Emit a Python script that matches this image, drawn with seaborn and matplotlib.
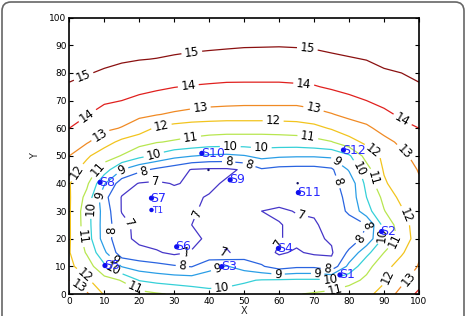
import numpy as np
import matplotlib
matplotlib.use("Agg")
import matplotlib.pyplot as plt
import seaborn as sns
from matplotlib.patches import FancyBboxPatch

# grid coordinates
x_grid = [0, 5, 10, 15, 20, 25, 30, 35, 40, 45, 50, 55, 60, 65, 70, 75, 80, 85, 90, 95, 100]
y_grid = [0, 5, 10, 15, 20, 25, 30, 35, 40, 45, 50, 55, 60, 65, 70, 75, 80, 85, 90, 95, 100]

# field values (rows: y, columns: x)
z_rows = [
    [13.8, 13.15, 11.9, 11.6, 11.35, 11.1, 10.9, 10.6, 10.3, 10.4, 10.35, 10.5, 10.7, 10.95, 11.1, 11.3, 11.55, 11.8, 12.3, 13.4, 14.2],
    [13.0, 12.15, 11.35, 10.95, 9.95, 9.7, 9.55, 9.5, 9.55, 9.6, 9.9, 10.05, 10.1, 10.15, 10.15, 10.15, 10.65, 11.2, 11.9, 12.7, 13.6],
    [12.2, 11.5, 10.2, 8.95, 8.5, 8.3, 8.1, 7.95, 8.7, 9.05, 8.6, 8.1, 7.5, 7.8, 7.8, 7.3, 9.3, 10.7, 11.6, 12.5, 13.05],
    [12.05, 10.9, 9.2, 7.4, 7.25, 7.1, 6.8, 7.05, 7.2, 6.9, 7.4, 7.35, 6.9, 7.1, 6.85, 6.9, 8.2, 9.7, 11.0, 11.85, 12.9],
    [12.1, 10.55, 8.55, 7.25, 6.8, 6.6, 6.6, 6.8, 7.15, 7.25, 7.3, 7.2, 7.05, 6.8, 6.85, 7.1, 7.4, 8.3, 10.2, 11.3, 12.6],
    [12.1, 10.45, 8.55, 7.3, 6.7, 6.6, 6.75, 7.0, 7.2, 7.3, 7.35, 7.25, 7.05, 6.8, 6.9, 7.3, 7.6, 8.0, 10.35, 11.5, 12.6],
    [12.1, 10.4, 8.6, 6.95, 6.7, 6.6, 6.7, 6.9, 7.2, 7.3, 7.2, 7.0, 6.85, 7.05, 7.1, 7.45, 8.15, 9.6, 10.95, 11.85, 12.8],
    [12.1, 10.7, 8.3, 6.95, 6.75, 6.55, 6.7, 6.9, 7.05, 7.3, 7.45, 7.5, 7.4, 7.35, 7.35, 7.5, 8.3, 10.0, 11.25, 12.3, 12.75],
    [12.05, 11.2, 9.1, 7.45, 6.95, 6.85, 7.05, 6.9, 6.85, 7.1, 7.45, 7.55, 7.55, 7.5, 7.5, 7.8, 8.3, 10.3, 11.85, 12.6, 12.9],
    [12.4, 11.6, 10.5, 9.0, 8.25, 7.8, 7.45, 6.95, 6.85, 6.85, 7.1, 7.9, 7.7, 7.65, 7.65, 7.85, 9.1, 10.6, 12.1, 12.6, 13.05],
    [13.0, 12.15, 11.45, 10.95, 10.3, 9.8, 9.3, 9.05, 8.85, 8.8, 8.95, 9.3, 9.15, 9.1, 9.1, 9.2, 9.85, 11.4, 12.2, 12.8, 13.3],
    [13.5, 13.1, 12.4, 11.75, 11.35, 11.05, 10.9, 10.75, 10.6, 10.55, 10.55, 10.55, 10.55, 10.55, 10.7, 10.95, 11.65, 12.2, 12.7, 13.2, 13.55],
    [14.0, 13.6, 13.2, 12.95, 12.5, 11.85, 11.6, 11.45, 11.4, 11.35, 11.35, 11.35, 11.4, 11.5, 11.7, 12.1, 12.5, 12.8, 13.35, 13.75, 14.0],
    [14.3, 14.05, 13.6, 13.45, 13.2, 13.05, 12.85, 12.7, 12.6, 12.55, 12.55, 12.55, 12.55, 12.55, 12.7, 12.95, 13.25, 13.5, 13.8, 14.15, 14.45],
    [14.6, 14.3, 14.15, 14.0, 13.85, 13.75, 13.6, 13.45, 13.35, 13.3, 13.25, 13.25, 13.25, 13.25, 13.4, 13.6, 13.8, 14.0, 14.25, 14.55, 14.85],
    [14.9, 14.65, 14.5, 14.35, 14.2, 14.1, 14.02, 13.95, 13.9, 13.85, 13.85, 13.85, 13.85, 13.9, 13.95, 14.1, 14.25, 14.4, 14.55, 14.75, 14.9],
    [15.2, 15.05, 14.9, 14.75, 14.6, 14.5, 14.45, 14.4, 14.35, 14.32, 14.3, 14.3, 14.3, 14.3, 14.35, 14.45, 14.6, 14.75, 14.9, 15.0, 15.2],
    [15.5, 15.35, 15.2, 15.1, 15.03, 14.98, 14.9, 14.85, 14.8, 14.78, 14.75, 14.75, 14.75, 14.75, 14.8, 14.88, 14.95, 15.02, 15.2, 15.4, 15.55],
    [15.8, 15.65, 15.5, 15.4, 15.33, 15.28, 15.22, 15.15, 15.12, 15.08, 15.05, 15.04, 15.03, 15.05, 15.08, 15.15, 15.22, 15.35, 15.5, 15.7, 15.85],
    [16.1, 15.95, 15.8, 15.7, 15.63, 15.58, 15.52, 15.45, 15.42, 15.38, 15.35, 15.34, 15.33, 15.35, 15.38, 15.45, 15.52, 15.65, 15.8, 16.0, 16.15],
    [16.4, 16.25, 16.1, 16.0, 15.93, 15.88, 15.82, 15.75, 15.72, 15.68, 15.65, 15.64, 15.63, 15.65, 15.68, 15.75, 15.82, 15.95, 16.1, 16.3, 16.45],
]

levels = [7, 8, 9, 10, 11, 12, 13, 14, 15]
level_colors = ["#4636c8", "#2a64e0", "#2a9ee6", "#36d0d8", "#b8e650",
                "#f2c41e", "#f08a24", "#e0201e", "#8a1010"]

# sensors
sensor_names = ["S1", "S2", "S3", "S4", "S5", "S6", "S7", "S8", "S9", "S10", "S11", "S12"]
sensor_x = [77.4, 89.3, 43.6, 59.8, 10.2, 30.7, 23.5, 8.8, 46.0, 37.9, 65.5, 78.4]
sensor_y = [6.9, 22.6, 9.9, 16.5, 10.3, 17.1, 34.7, 40.4, 41.3, 50.9, 36.7, 52.1]
t_name = ["T1"]
t_x = [23.5]
t_y = [30.4]
dot_x = [65.3, 39.8]
dot_y = [40.1, 44.9]

# label anchor points (approximate positions of the inline labels)
label_pos = [
    (3.9, 79.3), (35, 87.7), (68, 87.7),
    (5.4, 64.2), (34, 75.6), (67, 75.6), (95, 62.4),
    (8.8, 57.6), (37.4, 68), (69.7, 66), (95.5, 51), (97.4, 5), (2.5, 2.6),
    (26.4, 60), (58.3, 63), (87, 52), (2.2, 44), (96.6, 28.6), (4.5, 6.8), (91, 6.3),
    (34.5, 58), (68.3, 57.6), (8.3, 45), (3.6, 20.7), (19.3, 3.3), (88, 42), (94.5, 17.7), (76, 1.4),
    (24, 51), (55, 54.6), (82.6, 45), (6, 31), (12, 7.5), (43.6, 2.2), (74.6, 5.3), (89.7, 21.4),
    (46, 52), (15, 45), (8.2, 35.8), (13, 12.3), (42, 10.5), (71, 7), (85.4, 25.6), (76.8, 48.5),
    (21, 45.5), (51.6, 47.5), (78.4, 41.3), (12.5, 23), (32.3, 9.6), (59.7, 7.2), (84, 19.5),
    (24.6, 41.3), (45.5, 46.7), (17.4, 26), (33.5, 15), (36.8, 29.2), (66.4, 28.6), (59.3, 19), (74, 11.2), (44, 14.8),
]

sns.set_style("white")
plt.rcParams["font.family"] = ["DejaVu Sans"]

fig = plt.figure(figsize=(4.67, 3.16), dpi=100)
ax = fig.add_axes([0.1484, 0.0696, 0.7488, 0.8744])

X, Y = np.meshgrid(np.array(x_grid, float), np.array(y_grid, float))
Z = np.array(z_rows, float)
cs = ax.contour(X, Y, Z, levels=levels, colors=level_colors, linewidths=0.9)
ax.clabel(cs, levels, manual=label_pos, inline=True, inline_spacing=3,
          fontsize=8.5, fmt="%d", colors="k")

sns.scatterplot(x=sensor_x, y=sensor_y, color="#1010ee", s=14, ax=ax,
                legend=False, zorder=5, edgecolor="none")
sns.scatterplot(x=t_x, y=t_y, color="#1010ee", s=10, ax=ax,
                legend=False, zorder=5, edgecolor="none")
sns.scatterplot(x=dot_x, y=dot_y, color="#101060", s=3, ax=ax,
                legend=False, zorder=5, edgecolor="none")
for n, sx, sy in zip(sensor_names, sensor_x, sensor_y):
    ax.text(sx - 0.3, sy, n, color="#2a2aff", fontsize=9, va="center", ha="left", zorder=6)
for n, sx, sy in zip(t_name, t_x, t_y):
    ax.text(sx + 0.3, sy, n, color="#2a2aff", fontsize=6.5, va="center", ha="left", zorder=6)

ax.set_xlim(0, 100)
ax.set_ylim(0, 100)
ax.set_xticks(range(0, 101, 10))
ax.set_yticks(range(0, 101, 10))
ax.tick_params(direction="in", length=3, width=0.8, labelsize=6.5,
               top=True, right=True, bottom=True, left=True, pad=2, colors="k")
for s in ax.spines.values():
    s.set_visible(True)
    s.set_color("k")
    s.set_linewidth(1.2)
ax.set_xlabel("X", fontsize=7, labelpad=0)
ax.set_ylabel("Y", fontsize=7, labelpad=7)

border = FancyBboxPatch((0.02, -0.3), 4.62, 3.44, boxstyle="round,pad=0,rounding_size=0.09",
                        transform=fig.dpi_scale_trans, fill=False, edgecolor="#666666",
                        linewidth=1.2, clip_on=False)
fig.patches.append(border)

fig.savefig("out.png", dpi=100)
